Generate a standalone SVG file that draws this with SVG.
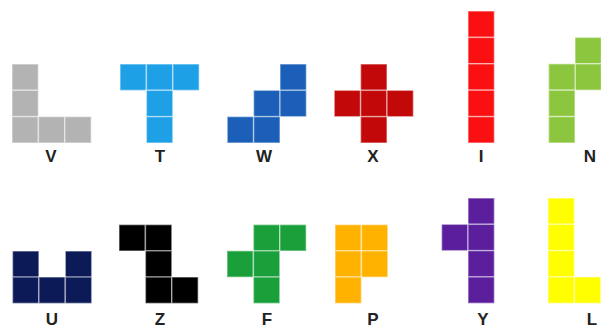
<svg xmlns="http://www.w3.org/2000/svg" width="601" height="332" viewBox="0 0 601 332">
<style>
rect.c{stroke:#ffffff;stroke-opacity:0.45;stroke-width:1.5}
text{font-family:"Liberation Sans",Arial,sans-serif;font-weight:bold;font-size:17px;fill:#222;text-anchor:middle}
</style>
<defs>
<rect id="sq" class="c" width="26.4" height="26.4"/>
</defs>
<rect width="601" height="332" fill="#fff"/>
<g id="V" fill="#b3b3b3">
<use href="#sq" x="12" y="64"/><use href="#sq" x="12" y="90.3"/><use href="#sq" x="12" y="116.6"/><use href="#sq" x="38.4" y="116.6"/><use href="#sq" x="64.8" y="116.6"/>
<text x="51" y="162">V</text>
</g>
<g id="T" fill="#1ea0e6">
<use href="#sq" x="120" y="64"/><use href="#sq" x="146.4" y="64"/><use href="#sq" x="172.8" y="64"/><use href="#sq" x="146.4" y="90.3"/><use href="#sq" x="146.4" y="116.6"/>
<text x="160" y="162">T</text>
</g>
<g id="W" fill="#1b5fb8">
<use href="#sq" x="280" y="64"/><use href="#sq" x="253.6" y="90.3"/><use href="#sq" x="280" y="90.3"/><use href="#sq" x="227.2" y="116.6"/><use href="#sq" x="253.6" y="116.6"/>
<text x="264" y="162">W</text>
</g>
<g id="X" fill="#c20808">
<use href="#sq" x="360.6" y="64"/><use href="#sq" x="334.2" y="90.3"/><use href="#sq" x="360.6" y="90.3"/><use href="#sq" x="387" y="90.3"/><use href="#sq" x="360.6" y="116.6"/>
<text x="373" y="162">X</text>
</g>
<g id="I" fill="#fa1010">
<use href="#sq" x="468" y="11"/><use href="#sq" x="468" y="37.4"/><use href="#sq" x="468" y="63.8"/><use href="#sq" x="468" y="90.2"/><use href="#sq" x="468" y="116.6"/>
<text x="481" y="162">I</text>
</g>
<g id="N" fill="#8cc63e">
<use href="#sq" x="575" y="37.4"/><use href="#sq" x="575" y="63.8"/><use href="#sq" x="548.6" y="63.8"/><use href="#sq" x="548.6" y="90.2"/><use href="#sq" x="548.6" y="116.6"/>
<text x="590" y="162">N</text>
</g>
<g id="U" fill="#0c1a57">
<use href="#sq" x="12.5" y="251"/><use href="#sq" x="65.3" y="251"/><use href="#sq" x="12.5" y="277"/><use href="#sq" x="38.9" y="277"/><use href="#sq" x="65.3" y="277"/>
<text x="52" y="325">U</text>
</g>
<g id="Z" fill="#000000">
<use href="#sq" x="119" y="224.6"/><use href="#sq" x="145.4" y="224.6"/><use href="#sq" x="145.4" y="250.8"/><use href="#sq" x="145.4" y="277"/><use href="#sq" x="171.8" y="277"/>
<text x="160" y="325">Z</text>
</g>
<g id="F" fill="#1aa03a">
<use href="#sq" x="253.4" y="224.6"/><use href="#sq" x="279.8" y="224.6"/><use href="#sq" x="227" y="250.8"/><use href="#sq" x="253.4" y="250.8"/><use href="#sq" x="253.4" y="277"/>
<text x="267" y="325">F</text>
</g>
<g id="P" fill="#ffb300">
<use href="#sq" x="335" y="224.6"/><use href="#sq" x="361.4" y="224.6"/><use href="#sq" x="335" y="250.8"/><use href="#sq" x="361.4" y="250.8"/><use href="#sq" x="335" y="277"/>
<text x="373" y="325">P</text>
</g>
<g id="Y" fill="#5b1f9e">
<use href="#sq" x="468" y="198"/><use href="#sq" x="441.6" y="224.3"/><use href="#sq" x="468" y="224.3"/><use href="#sq" x="468" y="250.6"/><use href="#sq" x="468" y="276.9"/>
<text x="483" y="325">Y</text>
</g>
<g id="L" fill="#ffff00">
<use href="#sq" x="548" y="198"/><use href="#sq" x="548" y="224.3"/><use href="#sq" x="548" y="250.6"/><use href="#sq" x="548" y="276.9"/><use href="#sq" x="574.4" y="276.9"/>
<text x="592" y="325">L</text>
</g>
<g id="connectors"/>
</svg>
